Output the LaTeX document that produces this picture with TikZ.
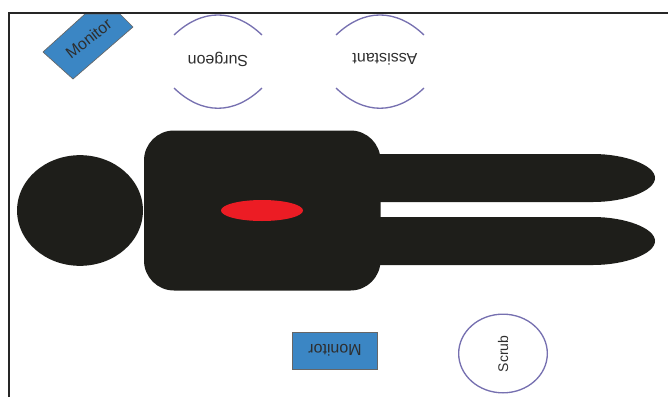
\documentclass[tikz,border=0pt]{standalone}
\usepackage{fontspec}
\setmainfont{Liberation Sans}
\usetikzlibrary{positioning,shapes.geometric}
\definecolor{bodyblk}{HTML}{1E1E1A}
\definecolor{woundred}{HTML}{EC1C24}
\definecolor{screenblue}{HTML}{3B86C4}
\definecolor{staffline}{HTML}{7670B0}
\definecolor{lbltext}{HTML}{2E2E2E}
\tikzset{
  frameln/.style={line width=0.8pt,black!85},
  bodypart/.style={fill=bodyblk,draw=none},
  wound/.style={ellipse,fill=woundred,draw=none,minimum width=61.5pt,minimum height=15.75pt,inner sep=0pt},
  screenbox/.style={fill=screenblue,draw=black!60,line width=0.5pt},
  screenlbl/.style={text=lbltext,inner sep=0pt,font=\fontsize{12}{14}\selectfont},
  staffarc/.style={staffline,line width=1pt},
  stafflbl/.style={text=lbltext,inner sep=0pt,font=\fontsize{12}{14}\selectfont},
}
\begin{document}
\begin{tikzpicture}[x=0.75pt,y=-0.75pt]
  \useasboundingbox (0,0) rectangle (668,397);
  % patient
  \node[ellipse,bodypart,minimum width=94.5pt,minimum height=83pt,inner sep=0pt] (head) at (80,210.5) {};
  \foreach \t/\m/\b in {154/178/202,217/241/265}{
    \fill[bodypart] (360,\t) -- (593,\t) .. controls (625,\t) and (655,\m-13) .. (655,\m)
      .. controls (655,\m+13) and (625,\b) .. (593,\b) -- (360,\b) -- cycle;
  }
  \fill[bodypart,rounded corners=22.5pt] (144,130.5) rectangle (380.5,290.5);
  \node[wound] (cut) at (262,210.5) {};
  % staff, the arcs stop short of the label
  \foreach \x/\tx/\lbl/\nm in {218/218/Surgeon/surgeon,380/385/Assistant/assistant}{
    \node[stafflbl,rotate=180] (\nm) at (\tx,59.5) {\lbl};
    \draw[staffarc] (\x-44,35) .. controls (\x-16,8.3) and (\x+16,8.3) .. (\x+44,35);
    \draw[staffarc] (\x-44,88) .. controls (\x-16,115) and (\x+16,115) .. (\x+44,88);
  }
  \node[ellipse,draw=staffline,line width=1pt,minimum width=66.5pt,minimum height=59pt,inner sep=0pt] (scrubring) at (503,353.5) {};
  \node[stafflbl,rotate=90,font=\fontsize{10.5}{12}\selectfont] (scrub) at (503,354) {Scrub};
  % monitors
  \node[screenbox,minimum width=64pt,minimum height=27.5pt,inner sep=0pt] (monlow) at (335,350.5) {};
  \node[screenlbl,rotate=180] (monlowlbl) at (335,350.5) {Monitor};
  \draw[screenbox] (43,52) -- (73,79) -- (133,27) -- (120,14) -- (85,14) -- cycle;
  \node[screenlbl,rotate=38] (montop) at (88.5,38.5) {Monitor};
  \draw[frameln] (9,397) -- (9,13) -- (668,13);
\end{tikzpicture}
\end{document}
